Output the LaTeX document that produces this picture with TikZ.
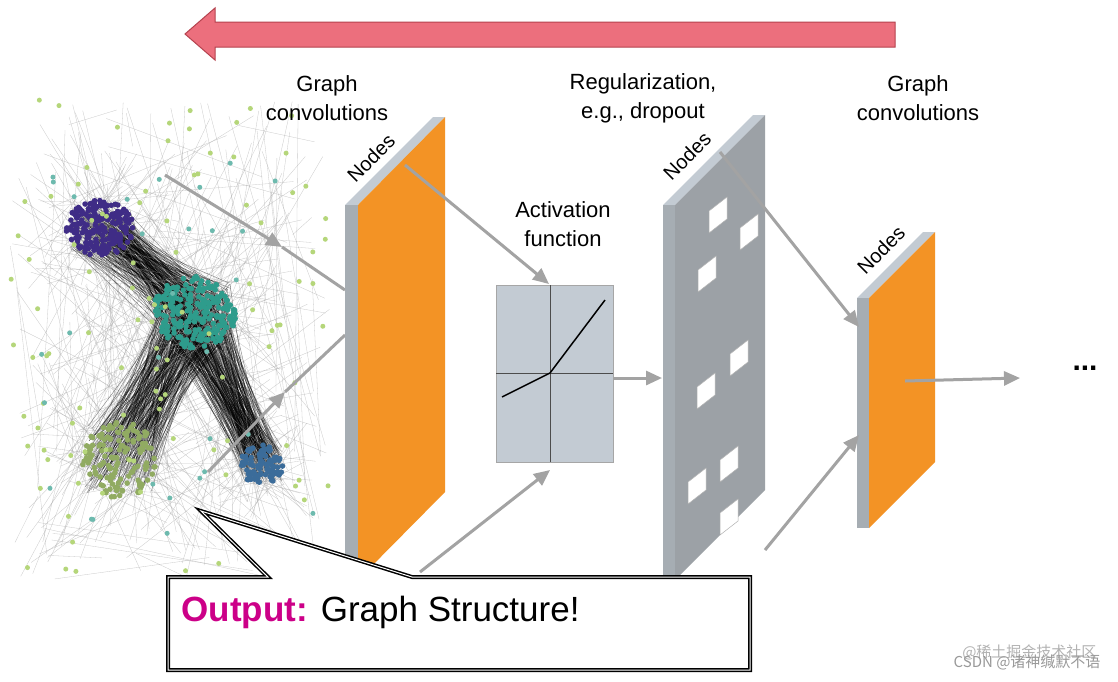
\documentclass[tikz,border=0pt]{standalone}
\usepackage{fontspec}
\setmainfont{Liberation Sans}
\newfontfamily\cjk{Noto Sans CJK SC}
\usetikzlibrary{calc,arrows.meta}
\definecolor{strip}{HTML}{C3CBD3}
\definecolor{orng}{HTML}{F39325}
\definecolor{dgray}{HTML}{9CA1A6}
\definecolor{agray}{HTML}{A3A3A3}
\definecolor{pinkA}{HTML}{EC6F7D}
\definecolor{pinkB}{HTML}{B5424E}
\definecolor{mag}{HTML}{CC0088}
\definecolor{purp}{HTML}{3F2C86}
\definecolor{teal}{HTML}{2E9C8C}
\definecolor{lgreen}{HTML}{B5D67A}
\definecolor{blu}{HTML}{3B6C9A}
\tikzset{
  conn/.style={agray,line width=3pt,-{Triangle[length=16pt,width=14pt]}},
  lbl/.style={font=\fontsize{22}{29}\selectfont,align=center,text=black},
  nodes lbl/.style={font=\fontsize{20}{22}\selectfont,rotate=45},
  edge/.style={gray!70,line width=0.3pt,opacity=0.6},
  dedge/.style={black,line width=0.4pt,opacity=0.5},
  hole/.style={fill=white,draw=gray!60,line width=0.5pt}
}
\begin{document}
\begin{tikzpicture}[x=1pt,y=-1pt]
\useasboundingbox (0,0) rectangle (1118,681);
\fill[white] (0,0) rectangle (1118,681);
% top arrow
\draw[pinkB,fill=pinkA,line width=1pt] (895,22) -- (215,22) -- (215,8) -- (185,34) -- (215,60) -- (215,47) -- (895,47) -- cycle;
% network
\pgfmathsetseed{7}
\foreach \i in {1,...,220}{
  \pgfmathsetmacro\xa{170+160*rand}\pgfmathsetmacro\ya{340+240*rand}
  \pgfmathsetmacro\xb{170+160*rand}\pgfmathsetmacro\yb{340+240*rand}
  \draw[edge] (\xa,\ya) -- (\xb,\yb);}
\foreach \i in {1,...,200}{
  \pgfmathsetmacro\xa{100+30*rand}\pgfmathsetmacro\ya{228+22*rand}
  \pgfmathsetmacro\xb{195+35*rand}\pgfmathsetmacro\yb{312+30*rand}
  \draw[dedge] (\xa,\ya) -- (\xb,\yb);
  \pgfmathsetmacro\xa{195+35*rand}\pgfmathsetmacro\ya{312+30*rand}
  \pgfmathsetmacro\xb{262+20*rand}\pgfmathsetmacro\yb{465+18*rand}
  \draw[dedge] (\xa,\ya) -- (\xb,\yb);
  \pgfmathsetmacro\xa{195+35*rand}\pgfmathsetmacro\ya{312+30*rand}
  \pgfmathsetmacro\xb{120+35*rand}\pgfmathsetmacro\yb{460+35*rand}
  \draw[dedge] (\xa,\ya) -- (\xb,\yb);}
\foreach \cx/\cy/\r in {100/228/30,195/312/40,120/460/40,262/465/22}{
  \foreach \i in {1,...,80}{
    \pgfmathsetmacro\xa{\cx+\r*rand}\pgfmathsetmacro\ya{\cy+\r*rand}
    \pgfmathsetmacro\xb{\cx+2.5*\r*rand}\pgfmathsetmacro\yb{\cy+2.5*\r*rand}
    \draw[edge] (\xa,\ya) -- (\xb,\yb);}}
\foreach \cx/\cy/\rx/\ry/\col/\n in {100/228/34/28/purp/220,195/312/42/36/teal/240,120/460/38/38/lgreen!80!black/140,262/465/22/20/blu/100}{
  \foreach \i in {1,...,\n}{
    \pgfmathsetmacro\ang{360*rnd}\pgfmathsetmacro\rr{sqrt(rnd)}
    \pgfmathsetmacro\xa{\cx+\rx*\rr*cos(\ang)}\pgfmathsetmacro\ya{\cy+\ry*\rr*sin(\ang)}
    \fill[\col] (\xa,\ya) circle (2.8);}}
\foreach \cx/\cy/\rx/\ry/\col/\n in {170/340/160/240/lgreen/110,170/340/150/200/teal!70/30}{
  \foreach \i in {1,...,\n}{
    \pgfmathsetmacro\xa{\cx+\rx*rand}\pgfmathsetmacro\ya{\cy+\ry*rand}
    \fill[\col] (\xa,\ya) circle (2.5);}}
% connectors from graph
\coordinate (g1) at (165,175); \coordinate (g2) at (208,472);
\coordinate (l1a) at (282,247); \coordinate (l1b) at (285,392);
\draw[agray,line width=3pt] (l1a) -- (345,290);
\draw[agray,line width=3pt] (l1b) -- (345,335);
\draw[conn] (g1) -- (l1a);
\draw[conn] (g2) -- (l1b);
% layer 1
\fill[strip] (345,205) -- (433,117) -- (445,117) -- (358,205) -- cycle;
\fill[strip!85!black] (345,205) rectangle (358,580);
\fill[orng] (358,205) -- (445,117) -- (445,492) -- (358,580) -- cycle;
\node[nodes lbl] (n1) at (371,158) {Nodes};
% activation box
\node[draw=gray!70,fill=strip,minimum width=117pt,minimum height=177pt,inner sep=0pt] (act) at (554.5,373.5) {};
\draw[gray!60!black,line width=0.6pt] (550,285) -- (550,462) (496,373) -- (613,373);
\draw[black,line width=1.5pt] (502,397) -- (550,373) -- (605,300);
\coordinate (a1) at (405,165); \coordinate (a2) at (420,572);
\coordinate (at) at (549,284); \coordinate (ab) at (550,470);
\draw[conn] (a1) -- (at);
\draw[conn] (a2) -- (ab);
% layer 2
\fill[strip] (663,205) -- (753,115) -- (765,115) -- (675,205) -- cycle;
\fill[strip!85!black] (663,205) rectangle (675,580);
\fill[dgray] (675,205) -- (765,115) -- (765,490) -- (675,580) -- cycle;
\foreach \x/\y in {709/203,740/220,698/262,730/346,697/379,720/452,688/474,720/505}{
  \draw[hole] (\x,\y+8) -- (\x+18,\y-6) -- (\x+18,\y+16) -- (\x,\y+30) -- cycle;}
\node[nodes lbl] (n2) at (687,156) {Nodes};
\coordinate (ae) at (613,378); \coordinate (l2) at (662,378);
\draw[conn] (ae) -- (l2);
% layer 3
\fill[strip] (857,298) -- (923,232) -- (935,232) -- (869,298) -- cycle;
\fill[strip!85!black] (857,298) rectangle (869,528);
\fill[orng] (869,298) -- (935,232) -- (935,462) -- (869,528) -- cycle;
\node[nodes lbl] (n3) at (881,250) {Nodes};
\coordinate (d1) at (720,152); \coordinate (d2) at (765,550);
\coordinate (l3a) at (859,327); \coordinate (l3b) at (859,435);
\draw[conn] (d1) -- (l3a);
\draw[conn] (d2) -- (l3b);
\coordinate (o1) at (905,381); \coordinate (o2) at (1020,378);
\draw[conn] (o1) -- (o2);
\node[font=\fontsize{30}{30}\selectfont] (dots) at (1085,368) {\textbf{...}};
% labels
\node[lbl] (t1) at (327,98) {Graph\\convolutions};
\node[lbl] (t2) at (643,98) {Regularization,\\e.g., dropout};
\node[lbl] (t3) at (563,224) {Activation\\function};
\node[lbl] (t4) at (918,98) {Graph\\convolutions};
% callout
\draw[black,line width=4pt,fill=white,line join=miter] (168,577) -- (268,577) -- (201,511) -- (412,577) -- (750,577) -- (750,670) -- (168,670) -- cycle;
\draw[white,line width=1pt,line join=miter] (168,577) -- (268,577) -- (201,511) -- (412,577) -- (750,577) -- (750,670) -- (168,670) -- cycle;
\node[anchor=west,font=\fontsize{35}{40}\selectfont] (out) at (178,612) {\textcolor{mag}{\textbf{Output:}} Graph Structure!};
% watermark
\node[anchor=east,font=\cjk\fontsize{15}{17}\selectfont,text=gray!60] (w1) at (1100,652) {@稀土掘金技术社区};
\node[anchor=east,font=\cjk\fontsize{15}{17}\selectfont,text=gray!80] (w2) at (1104,662) {CSDN @诸神缄默不语};
\end{tikzpicture}
\end{document}
